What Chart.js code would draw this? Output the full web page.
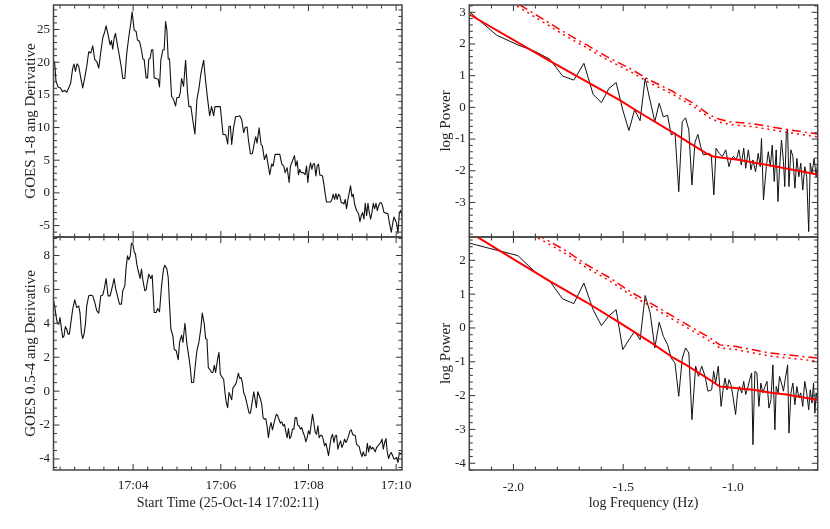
<!DOCTYPE html>
<html>
<head>
<meta charset="utf-8">
<title>GOES derivatives and power spectra</title>
<script src="https://cdn.jsdelivr.net/npm/chart.js@4.4.1/dist/chart.umd.min.js"></script>
<style>
    body { margin: 0; background: #fff; }
    #wrap { position: relative; width: 830px; height: 529px; }
    #wrap canvas { position: absolute; left: 0; top: 0; }
</style>
</head>
<body>
<div id="wrap">
    <canvas id="goesLong" width="830" height="529"></canvas>
    <canvas id="goesShort" width="830" height="529"></canvas>
    <canvas id="specLong" width="830" height="529"></canvas>
    <canvas id="specShort" width="830" height="529"></canvas>
</div>
<script>
//--------------------- time series (seconds after 17:02:11) ---------------------//
var START = 131; // 17:02:11 in seconds after 17:00
var timeTicks = [240, 360, 480, 600];

var timeLong = [
    0, 1.6, 3.4, 6.2, 9.4, 12.6, 15.3, 18.1, 20.8, 23.5,
    26.3, 28.1, 30.0, 32.2, 34.5, 37.3, 40.0, 42.7, 45.5, 48.2,
    51.0, 53.7, 56.5, 59.2, 61.9, 64.7, 67.4, 70.2, 72.0, 74.7,
    77.5, 79.3, 81.1, 83.0, 84.8, 87.5, 90.3, 93.0, 94.8, 97.6,
    100.3, 103.1, 105.8, 107.6, 110.4, 113.1, 114.9, 117.7, 120.4, 122.3,
    124.1, 126.8, 128.7, 130.5, 132.3, 134.2, 136.0, 137.8, 140.6, 143.3,
    145.1, 147.0, 149.7, 151.5, 153.4, 155.2, 157.0, 158.8, 161.6, 164.3,
    167.1, 168.9, 171.6, 173.5, 175.3, 178.0, 180.8, 183.5, 185.4, 188.1,
    190.8, 193.6, 196.3, 199.1, 201.8, 205.5, 208.2, 211.0, 213.7, 216.4,
    219.2, 221.0, 224.7, 228.3, 232.0, 235.7, 238.4, 240.2, 242.1, 243.9,
    246.6, 249.4, 252.1, 254.9, 257.6, 260.3, 262.2, 264.9, 266.7, 269.5,
    272.2, 275.0, 276.8, 278.6, 281.4, 284.1, 285.9, 288.7, 291.4, 293.3,
    296.0, 298.7, 300.6, 303.3, 306.1, 309.7, 312.5, 315.2, 317.0, 319.8,
    322.5, 324.3, 327.1, 329.8, 331.6, 333.5, 335.3, 337.1, 339.0, 341.7,
    344.4, 346.3, 348.1, 349.9, 351.8, 353.6, 355.4, 357.2, 359.1, 360.9,
    362.7, 364.6, 366.4, 368.2, 370.1, 371.9, 373.7, 376.4, 379.2, 381.0,
    382.8, 384.7, 386.5, 388.3, 390.2, 392.0, 393.8, 395.6, 397.5, 399.3,
    401.1, 403.0, 404.8, 406.6, 408.5, 410.3, 412.1, 414.8, 417.6, 419.4,
    421.2, 423.1, 424.9, 426.7, 428.6, 430.4, 432.2, 434.0, 435.9, 437.7,
    439.5, 441.4, 443.2, 445.0, 446.9, 448.7, 450.5, 452.3, 455.1, 457.8,
    459.6, 462.4, 464.2, 466.0, 467.9, 469.7, 471.5, 473.4, 475.2, 477.0
]
var derivLong = [
    20.2, 19.9, 17.1, 16.2, 16.05, 15.5, 15.7, 15.4, 16.05, 16.8,
    19.1, 19.7, 18.6, 19.75, 19.4, 17.6, 16.05, 17.6, 19.35, 21.6,
    21.4, 22.5, 20.4, 20.1, 19.1, 21.5, 23.7, 24.7, 25.55, 24.2,
    22.65, 23.3, 22.0, 23.7, 24.4, 22.65, 20.9, 19.1, 17.5, 17.5,
    21.4, 23.9, 25.96, 27.7, 24.9, 24.7, 23.4, 23.2, 21.9, 20.5,
    20.4, 17.6, 17.6, 20.5, 20.6, 21.9, 21.9, 17.6, 17.5, 17.4,
    16.2, 20.4, 21.9, 21.9, 26.2, 24.9, 20.5, 20.5, 14.8, 14.3,
    13.3, 14.6, 14.6, 15.3, 17.5, 16.3, 20.3, 15.3, 13.2, 13.2,
    11.0, 9.0, 14.3, 16.0, 18.3, 20.3, 17.1, 14.3, 11.8, 13.2,
    11.8, 13.2, 13.2, 13.2, 8.96, 8.9, 7.5, 10.2, 10.2, 7.4,
    10.1, 11.7, 11.7, 11.8, 11.2, 9.2, 9.95, 10.1, 8.2, 6.0,
    6.0, 7.7, 8.6, 7.6, 9.95, 7.4, 7.2, 5.1, 5.9, 4.6,
    2.8, 4.4, 4.1, 5.9, 5.9, 5.9, 4.4, 4.1, 3.1, 3.85,
    1.6, 4.1, 4.9, 5.7, 4.1, 4.9, 2.8, 3.6, 3.1, 3.1,
    2.8, 4.1, 1.6, 3.6, 4.6, 3.6, 4.4, 4.5, 2.6, 4.1,
    4.4, 2.7, 2.7, 2.6, 1.3, -0.2, -1.4, -1.4, -1.4, -1.0,
    -0.2, -1.0, -0.1, -1.0, -0.2, -0.5, -1.5, -1.5, -1.7, -1.0,
    -2.4, -1.0, 0.0, 1.1, -0.6, -0.2, -1.7, -2.7, -3.2, -4.4,
    -3.5, -3.0, -4.0, -1.6, -3.5, -1.6, -3.0, -4.0, -3.0, -1.6,
    -2.4, -1.6, -2.7, -2.0, -1.5, -1.5, -2.1, -3.0, -3.1, -3.2,
    -4.5, -6.0, -4.7, -3.7, -4.2, -4.7, -6.2, -3.0, -2.7, -3.5
]

var timeShort = [
    0.2, 1.6, 3.4, 5.3, 7.1, 8.9, 10.7, 12.6, 14.4, 16.2,
    18.1, 19.9, 21.7, 23.5, 26.3, 29.0, 31.8, 34.5, 36.3, 38.2,
    40.0, 41.8, 43.7, 45.5, 48.2, 51.0, 53.7, 56.5, 59.2, 61.9,
    64.7, 67.4, 69.3, 72.0, 74.7, 77.5, 80.2, 83.0, 84.8, 87.5,
    90.3, 93.0, 94.8, 97.6, 99.4, 101.3, 103.1, 104.9, 106.7, 108.6,
    110.4, 112.2, 114.0, 115.9, 118.6, 120.4, 122.3, 125.0, 126.8, 128.7,
    130.5, 133.2, 135.1, 137.8, 140.6, 142.4, 145.1, 147.9, 150.6, 152.4,
    155.2, 157.0, 158.8, 160.7, 163.4, 165.2, 168.0, 170.7, 172.5, 175.3,
    177.1, 179.9, 182.6, 185.4, 187.2, 189.0, 191.8, 194.5, 196.3, 199.1,
    201.8, 203.6, 206.4, 208.2, 210.0, 211.9, 213.7, 216.4, 218.3, 220.1,
    221.9, 224.7, 226.5, 228.3, 231.1, 232.9, 234.7, 236.5, 238.4, 240.2,
    242.1, 243.9, 245.7, 248.5, 250.3, 253.0, 254.9, 256.7, 258.5, 260.3,
    262.2, 264.9, 267.7, 269.5, 272.2, 274.1, 275.9, 277.7, 279.5, 281.4,
    283.2, 285.0, 286.9, 288.7, 290.5, 292.3, 294.2, 296.0, 297.8, 299.7,
    301.5, 303.3, 305.1, 307.0, 308.8, 310.6, 312.5, 314.3, 316.1, 318.0,
    319.8, 321.6, 323.4, 325.3, 327.1, 328.9, 330.8, 332.6, 334.4, 336.2,
    338.1, 339.9, 341.7, 343.5, 345.4, 347.2, 349.0, 350.9, 352.7, 354.5,
    356.3, 358.2, 360.0, 361.8, 363.6, 365.5, 367.3, 369.1, 371.0, 372.8,
    374.6, 376.4, 378.3, 380.1, 381.9, 383.8, 385.6, 387.4, 389.2, 391.1,
    392.9, 394.7, 396.6, 398.4, 400.2, 402.0, 403.9, 405.7, 407.5, 409.4,
    411.2, 413.0, 414.8, 416.7, 418.5, 420.3, 422.2, 424.0, 425.8, 427.6,
    429.5, 431.3, 433.1, 435.0, 436.8, 438.6, 440.4, 442.3, 444.1, 445.9,
    447.8, 449.6, 451.4, 453.2, 455.1, 456.9, 458.7, 460.6, 462.4, 464.2,
    466.0, 467.9, 469.7, 471.5, 473.4, 475.2, 477.0
]
var derivShort = [
    5.33, 5.03, 4.44, 4.0, 3.95, 4.34, 3.75, 3.16, 3.26, 3.81,
    3.65, 3.36, 3.36, 3.95, 4.84, 5.39, 4.93, 5.03, 4.6, 3.46,
    3.1, 3.36, 3.95, 5.03, 5.62, 5.66, 5.62, 5.23, 4.74, 4.6,
    5.62, 5.66, 6.0, 6.64, 5.62, 5.62, 6.1, 6.64, 6.1, 5.62,
    5.13, 5.13, 5.92, 6.21, 7.3, 7.98, 7.75, 7.94, 8.73, 8.67,
    8.22, 8.08, 7.49, 7.1, 6.64, 7.2, 6.56, 5.92, 5.97, 6.5,
    6.9, 6.64, 6.84, 4.64, 4.64, 4.87, 4.68, 6.21, 7.2, 7.43,
    7.2, 6.7, 5.13, 3.65, 3.26, 2.47, 2.38, 1.85, 2.87, 3.3,
    2.87, 4.0, 2.77, 1.98, 1.39, 0.51, 0.51, 1.69, 2.38, 2.91,
    3.75, 4.6, 3.95, 3.1, 3.06, 1.39, 1.29, 1.1, 1.1, 1.53,
    1.1, 1.92, 2.28, 1.0, 0.8, 0.7, -0.08, -0.67, -0.97, -0.08,
    -0.28, -0.51, 0.21, 0.35, 0.51, 1.06, 0.75, 0.80, 0.51, -0.08,
    -0.28, -0.77, -1.30, -1.30, -0.57, -0.04, -0.47, -0.97, -0.04, -0.24,
    -0.47, -0.77, -1.56, -1.66, -1.62, -2.05, -2.74, -2.15, -1.85, -2.28,
    -1.95, -1.62, -1.36, -1.46, -1.69, -1.89, -1.81, -2.05, -1.95, -2.40,
    -2.74, -2.21, -2.80, -2.64, -2.24, -2.24, -1.56, -1.56, -2.01, -2.05,
    -2.24, -2.15, -2.44, -2.64, -2.99, -2.74, -2.34, -2.54, -1.95, -1.36,
    -1.85, -2.44, -2.54, -2.05, -2.74, -2.60, -2.60, -2.83, -3.22, -3.07,
    -3.42, -3.81, -3.22, -2.74, -2.54, -3.03, -2.64, -2.60, -3.42, -3.13,
    -2.93, -3.32, -3.13, -2.83, -3.03, -2.87, -2.64, -2.34, -2.28, -2.54,
    -2.60, -2.60, -3.13, -3.22, -3.27, -3.62, -3.86, -3.58, -3.81, -3.81,
    -3.07, -3.58, -3.22, -3.42, -3.32, -3.42, -3.58, -3.32, -3.22, -3.13,
    -3.03, -2.83, -3.42, -3.03, -2.80, -3.62, -3.97, -3.72, -3.62, -3.81,
    -4.01, -3.97, -3.91, -4.21, -3.62, -3.72, -3.58
]

//--------------------- power spectra (log10) ---------------------//
var freqTicks = [-2.0, -1.5, -1.0];

var freqLong = [
    -2.201, -2.077, -1.980, -1.900, -1.834, -1.776, -1.725, -1.679, -1.637, -1.599,
    -1.565, -1.532, -1.502, -1.474, -1.448, -1.423, -1.400, -1.377, -1.356, -1.336,
    -1.317, -1.298, -1.281, -1.264, -1.247, -1.231, -1.216, -1.201, -1.187, -1.173,
    -1.160, -1.147, -1.135, -1.122, -1.110, -1.099, -1.087, -1.077,
    -1.063, -1.048, -1.033, -1.018, -1.007, -0.997, -0.985, -0.973, -0.962, -0.951,
    -0.942, -0.930, -0.918, -0.909, -0.897, -0.885, -0.876, -0.870, -0.861, -0.848,
    -0.839, -0.830, -0.821, -0.812, -0.803, -0.795, -0.788, -0.779, -0.770, -0.764,
    -0.757, -0.751, -0.745, -0.736, -0.727, -0.718, -0.709, -0.700, -0.691, -0.682,
    -0.673, -0.664, -0.655, -0.648, -0.640, -0.630, -0.621, -0.614
]
var powerLong = [
    3.02, 2.28, 1.97, 1.76, 1.52, 0.99, 0.86, 1.39, 0.41, 0.15,
    0.60, 0.78, -0.08, -0.73, -0.08, -0.42, 0.92, 0.20, -0.45, 0.13,
    -0.30, -0.25, -0.87, -0.80, -2.66, -0.45, -0.33, -0.71, -2.45, -1.10,
    -0.85, -1.24, -1.50, -1.48, -1.45, -1.50, -2.76, -1.29,
    -1.45, -1.55, -1.34, -1.87, -1.61, -1.55, -1.66, -1.34, -1.82, -1.29,
    -1.92, -1.34, -1.97, -1.66, -2.03, -1.45, -1.87, -0.98, -2.92, -1.87,
    -1.40, -1.87, -1.19, -2.34, -1.34, -2.97, -1.92, -1.03, -1.71, -2.50,
    -0.82, -0.70, -2.50, -1.34, -1.55, -2.55, -1.61, -2.19, -1.76, -2.61,
    -1.87, -2.19, -3.92, -1.76, -2.08, -1.61, -2.19, -1.70
]
var fitLongF = [-2.2, -1.833, -1.516, -1.424, -1.273, -1.197, -1.121, -1.091, -0.970, -0.818, -0.614]
var fitLongP = [2.93, 1.46, 0.23, -0.17, -0.80, -1.13, -1.45, -1.55, -1.66, -1.85, -2.12]
var confLongF = [-2.2, -1.97, -1.773, -1.666, -1.575, -1.47, -1.379, -1.273, -1.182, -1.106, -1.065, -1.015, -0.909, -0.788, -0.636, -0.614]
var confHiLong = [4.1, 3.23, 2.39, 1.97, 1.6, 1.23, 0.86, 0.50, 0.13, -0.24, -0.37, -0.45, -0.52, -0.66, -0.82, -0.84]
var confLoLong = [4.0, 3.14, 2.30, 1.88, 1.51, 1.14, 0.77, 0.41, 0.04, -0.33, -0.46, -0.54, -0.61, -0.75, -0.91, -0.93]

var freqShort = [
    -2.201, -2.077, -1.980, -1.900, -1.834, -1.776, -1.725, -1.679, -1.637, -1.599,
    -1.565, -1.532, -1.502, -1.474, -1.448, -1.423, -1.400, -1.377, -1.356, -1.336,
    -1.317, -1.298, -1.281, -1.264, -1.247, -1.231, -1.216, -1.201, -1.187,
    -1.170, -1.157, -1.142, -1.127, -1.114, -1.097, -1.088, -1.079, -1.067, -1.054,
    -1.045, -1.036, -1.027, -1.018, -1.009, -1.000, -0.988, -0.979, -0.970, -0.960,
    -0.951, -0.942, -0.933, -0.924, -0.915, -0.909, -0.900, -0.891, -0.882, -0.873,
    -0.864, -0.854, -0.845, -0.836, -0.827, -0.818, -0.809, -0.803, -0.794, -0.788,
    -0.779, -0.770, -0.761, -0.751, -0.745, -0.736, -0.727, -0.718, -0.709, -0.700,
    -0.691, -0.682, -0.673, -0.664, -0.655, -0.648, -0.640, -0.633, -0.627, -0.621, -0.614
]
var powerShort = [
    2.51, 2.30, 2.14, 1.65, 1.38, 0.86, 0.72, 1.33, 0.54, 0.07,
    0.36, 0.54, -0.64, -0.35, -0.10, -0.35, 0.96, 0.44, -0.59, 0.17,
    -0.25, -0.49, -0.89, -1.04, -2.02, -0.90, -0.59, -0.74, -2.71,
    -1.13, -1.43, -1.13, -1.43, -1.87, -1.83, -1.28, -1.63, -1.13, -2.32,
    -1.83, -1.48, -1.83, -1.53, -1.68, -2.02, -2.56, -1.92, -1.73, -1.92,
    -1.58, -1.97, -1.78, -1.53, -1.33, -3.45, -1.28, -1.33, -2.32, -1.63,
    -1.92, -1.73, -1.58, -2.37, -2.12, -1.09, -3.01, -1.73, -1.92, -1.43,
    -1.63, -1.87, -1.48, -1.09, -3.11, -1.92, -1.63, -2.27, -1.73, -2.07,
    -1.92, -2.32, -1.58, -1.92, -2.42, -1.83, -2.22, -1.63, -2.52, -1.92, -2.20
]
var fitShortF = [-2.2, -1.97, -1.833, -1.667, -1.515, -1.364, -1.273, -1.212, -1.121, -1.06, -0.909, -0.818, -0.757, -0.614]
var fitShortP = [2.83, 1.92, 1.38, 0.76, 0.15, -0.47, -0.88, -1.10, -1.47, -1.73, -1.83, -1.92, -1.97, -2.13]
var confShortF = [-2.2, -1.871, -1.757, -1.667, -1.56, -1.47, -1.364, -1.273, -1.182, -1.091, -1.06, -0.985, -0.833, -0.614]
var confHiShort = [3.85, 2.69, 2.27, 1.87, 1.48, 1.08, 0.69, 0.34, 0.0, -0.35, -0.50, -0.55, -0.74, -0.89]
var confLoShort = [3.76, 2.60, 2.18, 1.78, 1.39, 0.99, 0.60, 0.25, -0.09, -0.44, -0.59, -0.64, -0.83, -0.98]

//--------------------- helpers ---------------------//
Chart.defaults.font.family = "'Liberation Serif', 'Times New Roman', serif";
Chart.defaults.color = '#222';

function xy(xs, ys, shift) {
    return xs.map(function (x, i) { return { x: x + (shift || 0), y: ys[i] }; });
}

function line(data, color, width, dash) {
    return {
        data: data, borderColor: color, borderWidth: width, borderDash: dash || [],
        pointRadius: 0, tension: 0, borderJoinStyle: 'round', fill: false
    };
}

// list of tick marks (major from the scale, minor every step)
function marks(scale, step) {
    var majors = scale.ticks.map(function (t) { return t.value; });
    var out = majors.map(function (v) { return { v: v, len: 6 }; });
    for (var i = Math.ceil(scale.min / step - 1e-6); i * step <= scale.max + 1e-9; i++) {
        var v = i * step;
        var isMajor = majors.some(function (m) { return Math.abs(m - v) < step / 100; });
        if (!isMajor) out.push({ v: v, len: 3.5 });
    }
    return out;
}

// IDL style box: frame with inward ticks on all four sides
var idlFrame = {
    id: 'idlFrame',
    afterDraw: function (chart, args, opts) {
        var ctx = chart.ctx, a = chart.chartArea;
        var sx = chart.scales.x, sy = chart.scales.y;
        ctx.save();
        ctx.strokeStyle = '#333';
        ctx.lineWidth = 1;
        ctx.beginPath();
        marks(sx, opts.xMinor).forEach(function (m) {
            var p = sx.getPixelForValue(m.v);
            ctx.moveTo(p, a.bottom); ctx.lineTo(p, a.bottom - m.len);
            ctx.moveTo(p, a.top); ctx.lineTo(p, a.top + m.len);
        });
        marks(sy, opts.yMinor).forEach(function (m) {
            var p = sy.getPixelForValue(m.v);
            ctx.moveTo(a.left, p); ctx.lineTo(a.left + m.len, p);
            ctx.moveTo(a.right, p); ctx.lineTo(a.right - m.len, p);
        });
        ctx.stroke();
        ctx.strokeStyle = '#444';
        ctx.lineWidth = 1.5;
        ctx.strokeRect(a.left, a.top, a.right - a.left, a.bottom - a.top);
        ctx.restore();
    }
};

var Y_W = 50;

function panel(id, box, xc, yc, datasets) {
    var xh = xc.title ? 54 : 0;
    return new Chart(document.getElementById(id), {
        type: 'line',
        data: { datasets: datasets },
        options: {
            responsive: false,
            animation: false,
            events: [],
            layout: { padding: { left: box[0] - Y_W, top: box[1], right: 830 - box[2], bottom: 529 - box[3] - xh } },
            plugins: {
                legend: { display: false },
                tooltip: { enabled: false },
                idlFrame: { xMinor: xc.minor, yMinor: yc.minor }
            },
            scales: {
                x: {
                    type: 'linear', min: xc.min, max: xc.max,
                    grid: { display: false, drawTicks: false },
                    border: { display: false },
                    afterBuildTicks: function (s) { s.ticks = xc.ticks.map(function (v) { return { value: v }; }); },
                    afterFit: function (s) { s.height = xh; s.paddingLeft = 0; s.paddingRight = 0; },
                    ticks: {
                        display: !!xc.title, autoSkip: false, maxRotation: 0, padding: xc.pad,
                        font: { size: 13.5 }, color: '#222', callback: xc.fmt
                    },
                    title: xc.title ? {
                        display: true, text: xc.title, font: { size: 14 }, color: '#222',
                        padding: { top: 0, bottom: 12 }
                    } : { display: false }
                },
                y: {
                    type: 'linear', min: yc.min, max: yc.max,
                    grid: { display: false, drawTicks: false },
                    border: { display: false },
                    afterBuildTicks: function (s) { s.ticks = yc.ticks.map(function (v) { return { value: v }; }); },
                    afterFit: function (s) { s.width = Y_W; s.paddingTop = 0; s.paddingBottom = 0; },
                    ticks: {
                        autoSkip: false, padding: 3.5, font: { size: 13 }, color: '#222',
                        callback: function (v) { return String(v); }
                    },
                    title: {
                        display: true, text: yc.title, font: { size: 15 }, color: '#222',
                        padding: { top: yc.titlePad, bottom: 0 }
                    }
                }
            }
        },
        plugins: [idlFrame]
    });
}

function clock(v) { return '17:' + String(v / 60).padStart(2, '0'); }
function oneDec(v) { return v.toFixed(1); }

//--------------------- the four panels ---------------------//
var timeAxis = { min: 131, max: 608, ticks: timeTicks, minor: 20, fmt: clock, pad: 7 };
var freqAxis = { min: -2.201, max: -0.614, ticks: freqTicks, minor: 0.1, fmt: oneDec, pad: 9 };

panel('goesLong', [53.5, 5, 402, 237],
    Object.assign({}, timeAxis),
    { min: -6.75, max: 28.75, ticks: [-5, 0, 5, 10, 15, 20, 25], minor: 1, title: 'GOES 1-8 ang Derivative', titlePad: 19 },
    [line(xy(timeLong, derivLong, START), '#111', 1.1)]);

panel('goesShort', [53.5, 237, 402, 470],
    Object.assign({ title: 'Start Time (25-Oct-14 17:02:11)' }, timeAxis),
    { min: -4.65, max: 9.09, ticks: [-4, -2, 0, 2, 4, 6, 8], minor: 0.5, title: 'GOES 0.5-4 ang Derivative', titlePad: 19 },
    [line(xy(timeShort, derivShort, START), '#111', 1.1)]);

panel('specLong', [469.3, 5, 817.7, 237],
    Object.assign({}, freqAxis),
    { min: -4.09, max: 3.23, ticks: [-3, -2, -1, 0, 1, 2, 3], minor: 0.2, title: 'log Power', titlePad: 18 },
    [
        line(xy(fitLongF, fitLongP), '#ff0000', 2),
        line(xy(confLongF, confHiLong), '#ff0000', 1.5, [9, 4, 2, 4]),
        line(xy(confLongF, confLoLong), '#ff0000', 1.5, [2, 4]),
        line(xy(freqLong, powerLong), '#111', 1)
    ]);

panel('specShort', [469.3, 237, 817.7, 470],
    Object.assign({ title: 'log Frequency (Hz)' }, freqAxis),
    { min: -4.2, max: 2.69, ticks: [-4, -3, -2, -1, 0, 1, 2], minor: 0.2, title: 'log Power', titlePad: 18 },
    [
        line(xy(fitShortF, fitShortP), '#ff0000', 2),
        line(xy(confShortF, confHiShort), '#ff0000', 1.5, [9, 4, 2, 4]),
        line(xy(confShortF, confLoShort), '#ff0000', 1.5, [2, 4]),
        line(xy(freqShort, powerShort), '#111', 1)
    ]);
</script>
</body>
</html>
